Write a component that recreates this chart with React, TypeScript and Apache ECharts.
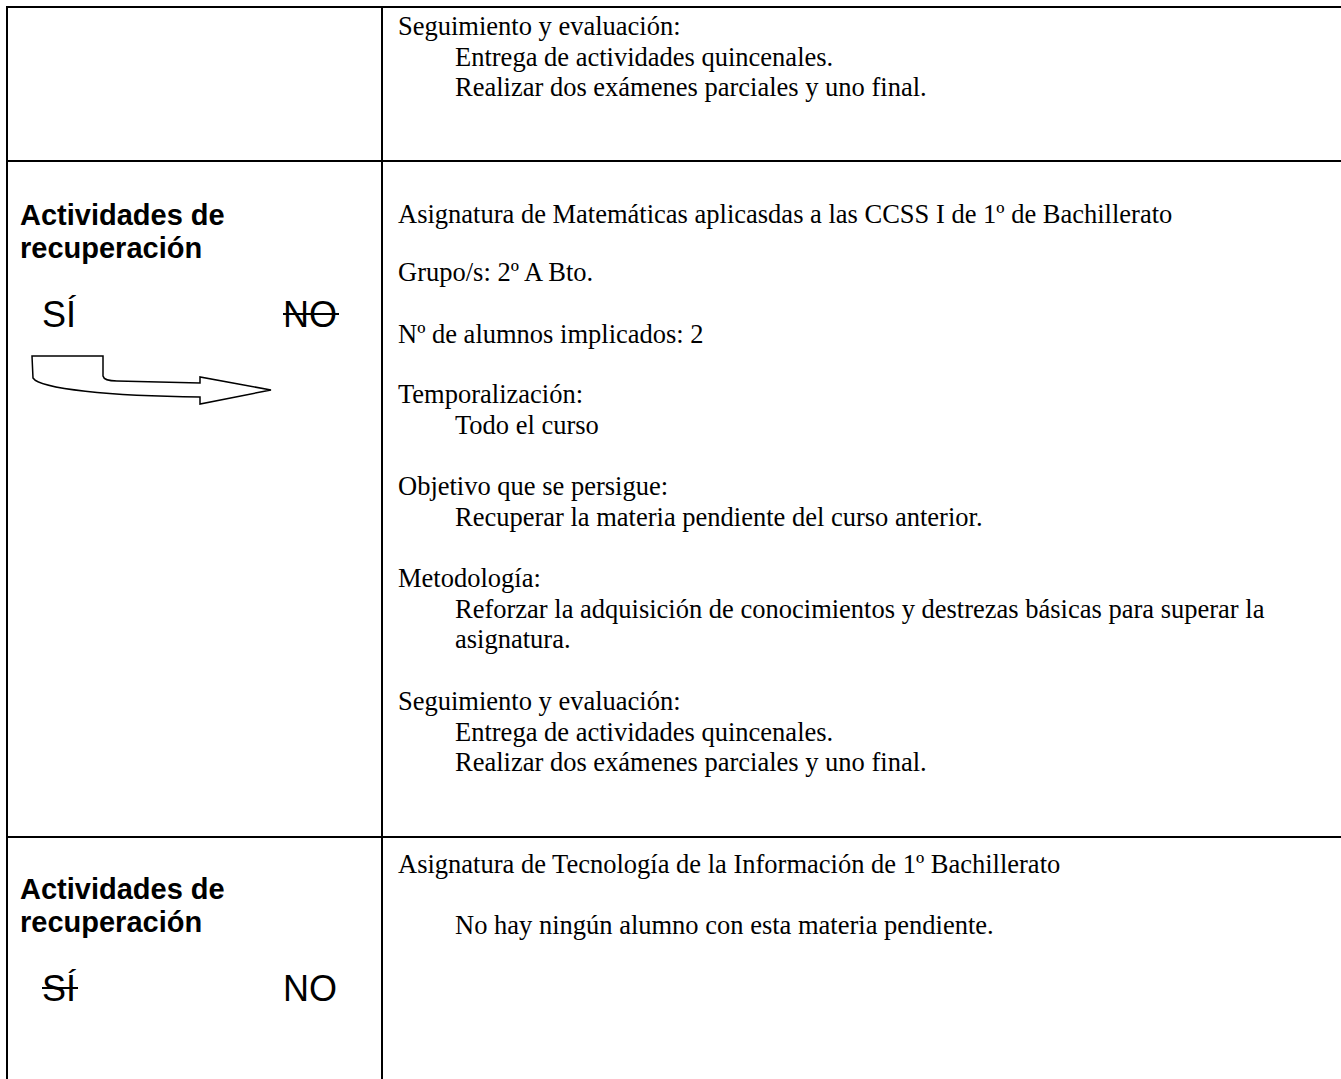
import React, { useEffect, useRef } from "react";
import * as echarts from "echarts";

// ---- content ----
const row1Lines = [
  "Seguimiento y evaluación:",
  "Entrega de actividades quincenales.",
  "Realizar dos exámenes parciales y uno final.",
];
const row1Indent = [0, 1, 1];

const row2Lines = [
  "Asignatura de Matemáticas aplicasdas a las CCSS I de 1º de Bachillerato",
  "Grupo/s: 2º A Bto.",
  "Nº de alumnos implicados: 2",
  "Temporalización:",
  "Todo el curso",
  "Objetivo que se persigue:",
  "Recuperar la materia pendiente del curso anterior.",
  "Metodología:",
  "Reforzar la adquisición de conocimientos y destrezas básicas para superar la",
  "asignatura.",
  "Seguimiento y evaluación:",
  "Entrega de actividades quincenales.",
  "Realizar dos exámenes parciales y uno final.",
];
const row2Indent = [0, 0, 0, 0, 1, 0, 1, 0, 1, 1, 0, 1, 1];

const row3Lines = [
  "Asignatura de Tecnología de la Información de 1º Bachillerato",
  "No hay ningún alumno con esta materia pendiente.",
];
const row3Indent = [0, 1];

const headingLines = ["Actividades de", "recuperación"];
const choiceLabels = ["SÍ", "NO"];
// which choice is struck out in row 2 and row 3
const struckRow2 = [false, true];
const struckRow3 = [true, false];

// ---- layout ----
const W = 1341;
const H = 1079;
const LEFT = 7;
const TOP = 7;
const DIV_X = 382;
const ROW_LINES_Y = [161, 837];
const TEXT_X = 398;
const INDENT_X = 455;
const row1Y = [26, 57, 87];
const row2Y = [214, 272, 334, 394, 425, 486, 517, 578, 609, 639, 701, 732, 762];
const row3Y = [864, 925];
const headingX = 20;
const choiceX = [42, 283];

const SERIF = '"Liberation Serif", "Times New Roman", serif';
const SANS = '"Liberation Sans", Arial, sans-serif';
const BODY_SIZE = 26.5;
const HEAD_SIZE = 29;
const CHOICE_SIZE = 36;
const CHOICE_EM_WIDTH = [0.945, 1.5];

const ARROW_D =
  "M32,356 L103,356 L103,376 Q104,381 117,381 L200,383 L200,377 L271,390 L200,404 L200,397 C110,396 40,389 33,378 Z";

echarts.graphic.registerShape("bentArrow", echarts.graphic.extendPath(ARROW_D, {}) as any);

function bodyText(lines: string[], indents: number[], ys: number[]) {
  return lines.map((t, i) => ({
    type: "text",
    x: indents[i] ? INDENT_X : TEXT_X,
    y: ys[i],
    style: {
      text: t,
      fontSize: BODY_SIZE,
      fontFamily: SERIF,
      fill: "#000",
      verticalAlign: "middle",
      textVerticalAlign: "middle",
    },
  }));
}

function choiceBlock(headY: number, choiceY: number, struck: boolean[]) {
  const els: any[] = [];
  headingLines.forEach((t, i) => {
    els.push({
      type: "text",
      x: headingX,
      y: headY + i * 33,
      style: {
        text: t,
        fontSize: HEAD_SIZE,
        fontFamily: SANS,
        fontWeight: "bold",
        fill: "#000",
        verticalAlign: "middle",
        textVerticalAlign: "middle",
      },
    });
  });
  choiceLabels.forEach((t, i) => {
    els.push({
      type: "text",
      x: choiceX[i],
      y: choiceY,
      style: {
        text: t,
        fontSize: CHOICE_SIZE,
        fontFamily: SANS,
        fill: "#000",
        verticalAlign: "middle",
        textVerticalAlign: "middle",
      },
    });
    if (struck[i]) {
      const w = CHOICE_EM_WIDTH[i] * CHOICE_SIZE + 2;
      els.push({
        type: "line",
        shape: { x1: choiceX[i], y1: choiceY, x2: choiceX[i] + w, y2: choiceY },
        style: { stroke: "#000", lineWidth: 2 },
      });
    }
  });
  return els;
}

export default function App() {
  const ref = useRef<HTMLDivElement>(null);
  useEffect(() => {
    if (!ref.current) return;
    const chart = echarts.init(ref.current, undefined, { renderer: "svg" });
    const lineStyle = { stroke: "#000", lineWidth: 2 };
    const elements: any[] = [
      { type: "rect", shape: { x: 0, y: 0, width: W, height: H }, style: { fill: "#fff" } },
      { type: "line", shape: { x1: LEFT, y1: TOP, x2: W, y2: TOP }, style: lineStyle },
      { type: "line", shape: { x1: LEFT, y1: TOP - 1, x2: LEFT, y2: H }, style: lineStyle },
      { type: "line", shape: { x1: DIV_X, y1: TOP, x2: DIV_X, y2: H }, style: lineStyle },
      ...ROW_LINES_Y.map((y) => ({
        type: "line",
        shape: { x1: LEFT, y1: y, x2: W, y2: y },
        style: lineStyle,
      })),
      ...bodyText(row1Lines, row1Indent, row1Y),
      ...bodyText(row2Lines, row2Indent, row2Y),
      ...bodyText(row3Lines, row3Indent, row3Y),
      ...choiceBlock(215, 314, struckRow2),
      ...choiceBlock(889, 988, struckRow3),
      {
        type: "bentArrow",
        x: 0,
        y: 0,
        style: { fill: "#fff", stroke: "#000", lineWidth: 1.5 },
      },
    ];
    chart.setOption({
      animation: false,
      graphic: { elements },
    });
    return () => chart.dispose();
  }, []);
  return (
    <div
      ref={ref}
      style={{ position: "fixed", left: 0, top: 0, width: W, height: H, background: "#fff" }}
    />
  );
}
